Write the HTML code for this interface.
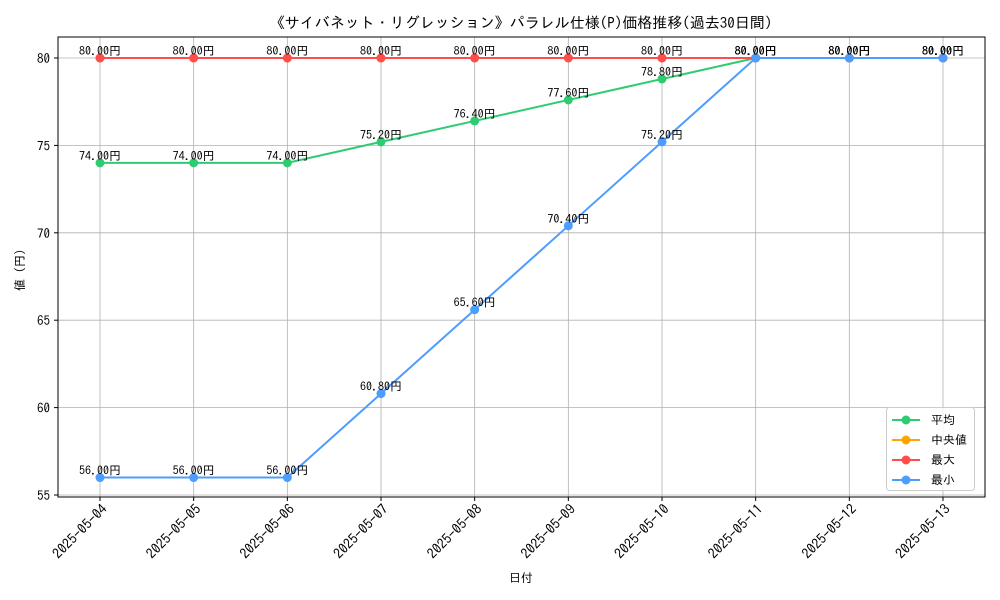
<!DOCTYPE html>
<html><head><meta charset="utf-8"><style>
body{margin:0;background:#fff}
svg{display:block;font-family:"IPAGothic","Liberation Sans","Noto Sans CJK JP",sans-serif}
</style></head><body>
<svg id="chart" width="1000" height="600" viewBox="0 0 1000 600">
<text x="521" y="28" text-anchor="middle" font-size="15">《サイバネット・リグレッション》パラレル仕様(P)価格推移(過去30日間)</text>
<g id="grid"></g>
<g id="axes"></g>
<g id="series"></g>
<g id="labels"></g>
<text x="521" y="582" text-anchor="middle" font-size="12">日付</text>
<text transform="translate(24,270) rotate(-90)" text-anchor="middle" font-size="12">値 (円)</text>
<g id="legend">
<rect x="886.5" y="407.5" width="88" height="83" rx="3" fill="#fff" fill-opacity="0.8" stroke="#ccc"/>
</g>
</svg>
<script>
const dates=["2025-05-04","2025-05-05","2025-05-06","2025-05-07","2025-05-08","2025-05-09","2025-05-10","2025-05-11","2025-05-12","2025-05-13"];
const avgVals=[74,74,74,75.2,76.4,77.6,78.8,80,80,80];
const medVals=[80,80,80,80,80,80,80,80,80,80];
const maxVals=[80,80,80,80,80,80,80,80,80,80];
const minVals=[56,56,56,60.8,65.6,70.4,75.2,80,80,80];
const yTicks=[55,60,65,70,75,80];
const NS="http://www.w3.org/2000/svg";
const L=58,R=985,T=37,B=497;
const x=i=>100+i*(943-100)/(dates.length-1);
const y=v=>58+(80-v)*(495-58)/25;
function mk(tag,attrs,parent){const e=document.createElementNS(NS,tag);for(const k in attrs)e.setAttribute(k,attrs[k]);parent.appendChild(e);return e;}
const grid=document.getElementById('grid'),axes=document.getElementById('axes'),ser=document.getElementById('series'),lab=document.getElementById('labels'),leg=document.getElementById('legend');
dates.forEach((d,i)=>{
  const g=mk('line',{x1:x(i),x2:x(i),y1:T,y2:B,stroke:'#b0b0b0','stroke-width':0.8},grid);
  
  
  const tk=mk('line',{x1:x(i),x2:x(i),y1:B,y2:B+4,stroke:'#000'},axes);
  
  
  const t=mk('text',{x:0,y:0,'font-size':14,'text-anchor':'end',transform:`translate(${x(i)+8},${B+13}) rotate(-45)`},axes);
  t.textContent=d;
  
  
});
yTicks.forEach(v=>{
  const g=mk('line',{x1:L,x2:R,y1:y(v),y2:y(v),stroke:'#b0b0b0','stroke-width':0.8},grid);
  
  
  const tk=mk('line',{x1:L-4,x2:L,y1:y(v),y2:y(v),stroke:'#000'},axes);
  
  
  const t=mk('text',{x:L-8,y:y(v)+5,'font-size':13,'text-anchor':'end'},axes);
  t.textContent=v;
  
  
});
const frame=mk('rect',{x:L,y:T,width:R-L,height:B-T,fill:'none',stroke:'#000','stroke-width':1},axes);


const series=[["平均",avgVals,"#2ecc71",true],["中央値",medVals,"#ffa500",false],["最大",maxVals,"#ff4d4d",true],["最小",minVals,"#4d9dff",true]];
series.forEach(([name,vals,col,lbl],si)=>{
  const p=mk('polyline',{points:vals.map((v,i)=>x(i)+','+y(v)).join(' '),fill:'none',stroke:col,'stroke-width':2},ser);
  
  
  vals.forEach((v,i)=>{
    const c=mk('circle',{cx:x(i),cy:y(v),r:4.5,fill:col},ser);
    
    
    if(lbl){
      const t=mk('text',{x:x(i),y:y(v)-3,'font-size':12,'text-anchor':'middle'},lab);
      t.textContent=v.toFixed(2)+'円';
      
      
    }
  });
  const ly=420+si*20;
  const ll=mk('line',{x1:892,x2:920,y1:ly,y2:ly,stroke:col,'stroke-width':2},leg);
  
  
  const lc=mk('circle',{cx:906,cy:ly,r:4.5,fill:col},leg);
  
  
  const lt=mk('text',{x:931,y:ly+4,'font-size':12},leg);
  lt.textContent=name;
  
  
});
</script>
</body></html>
